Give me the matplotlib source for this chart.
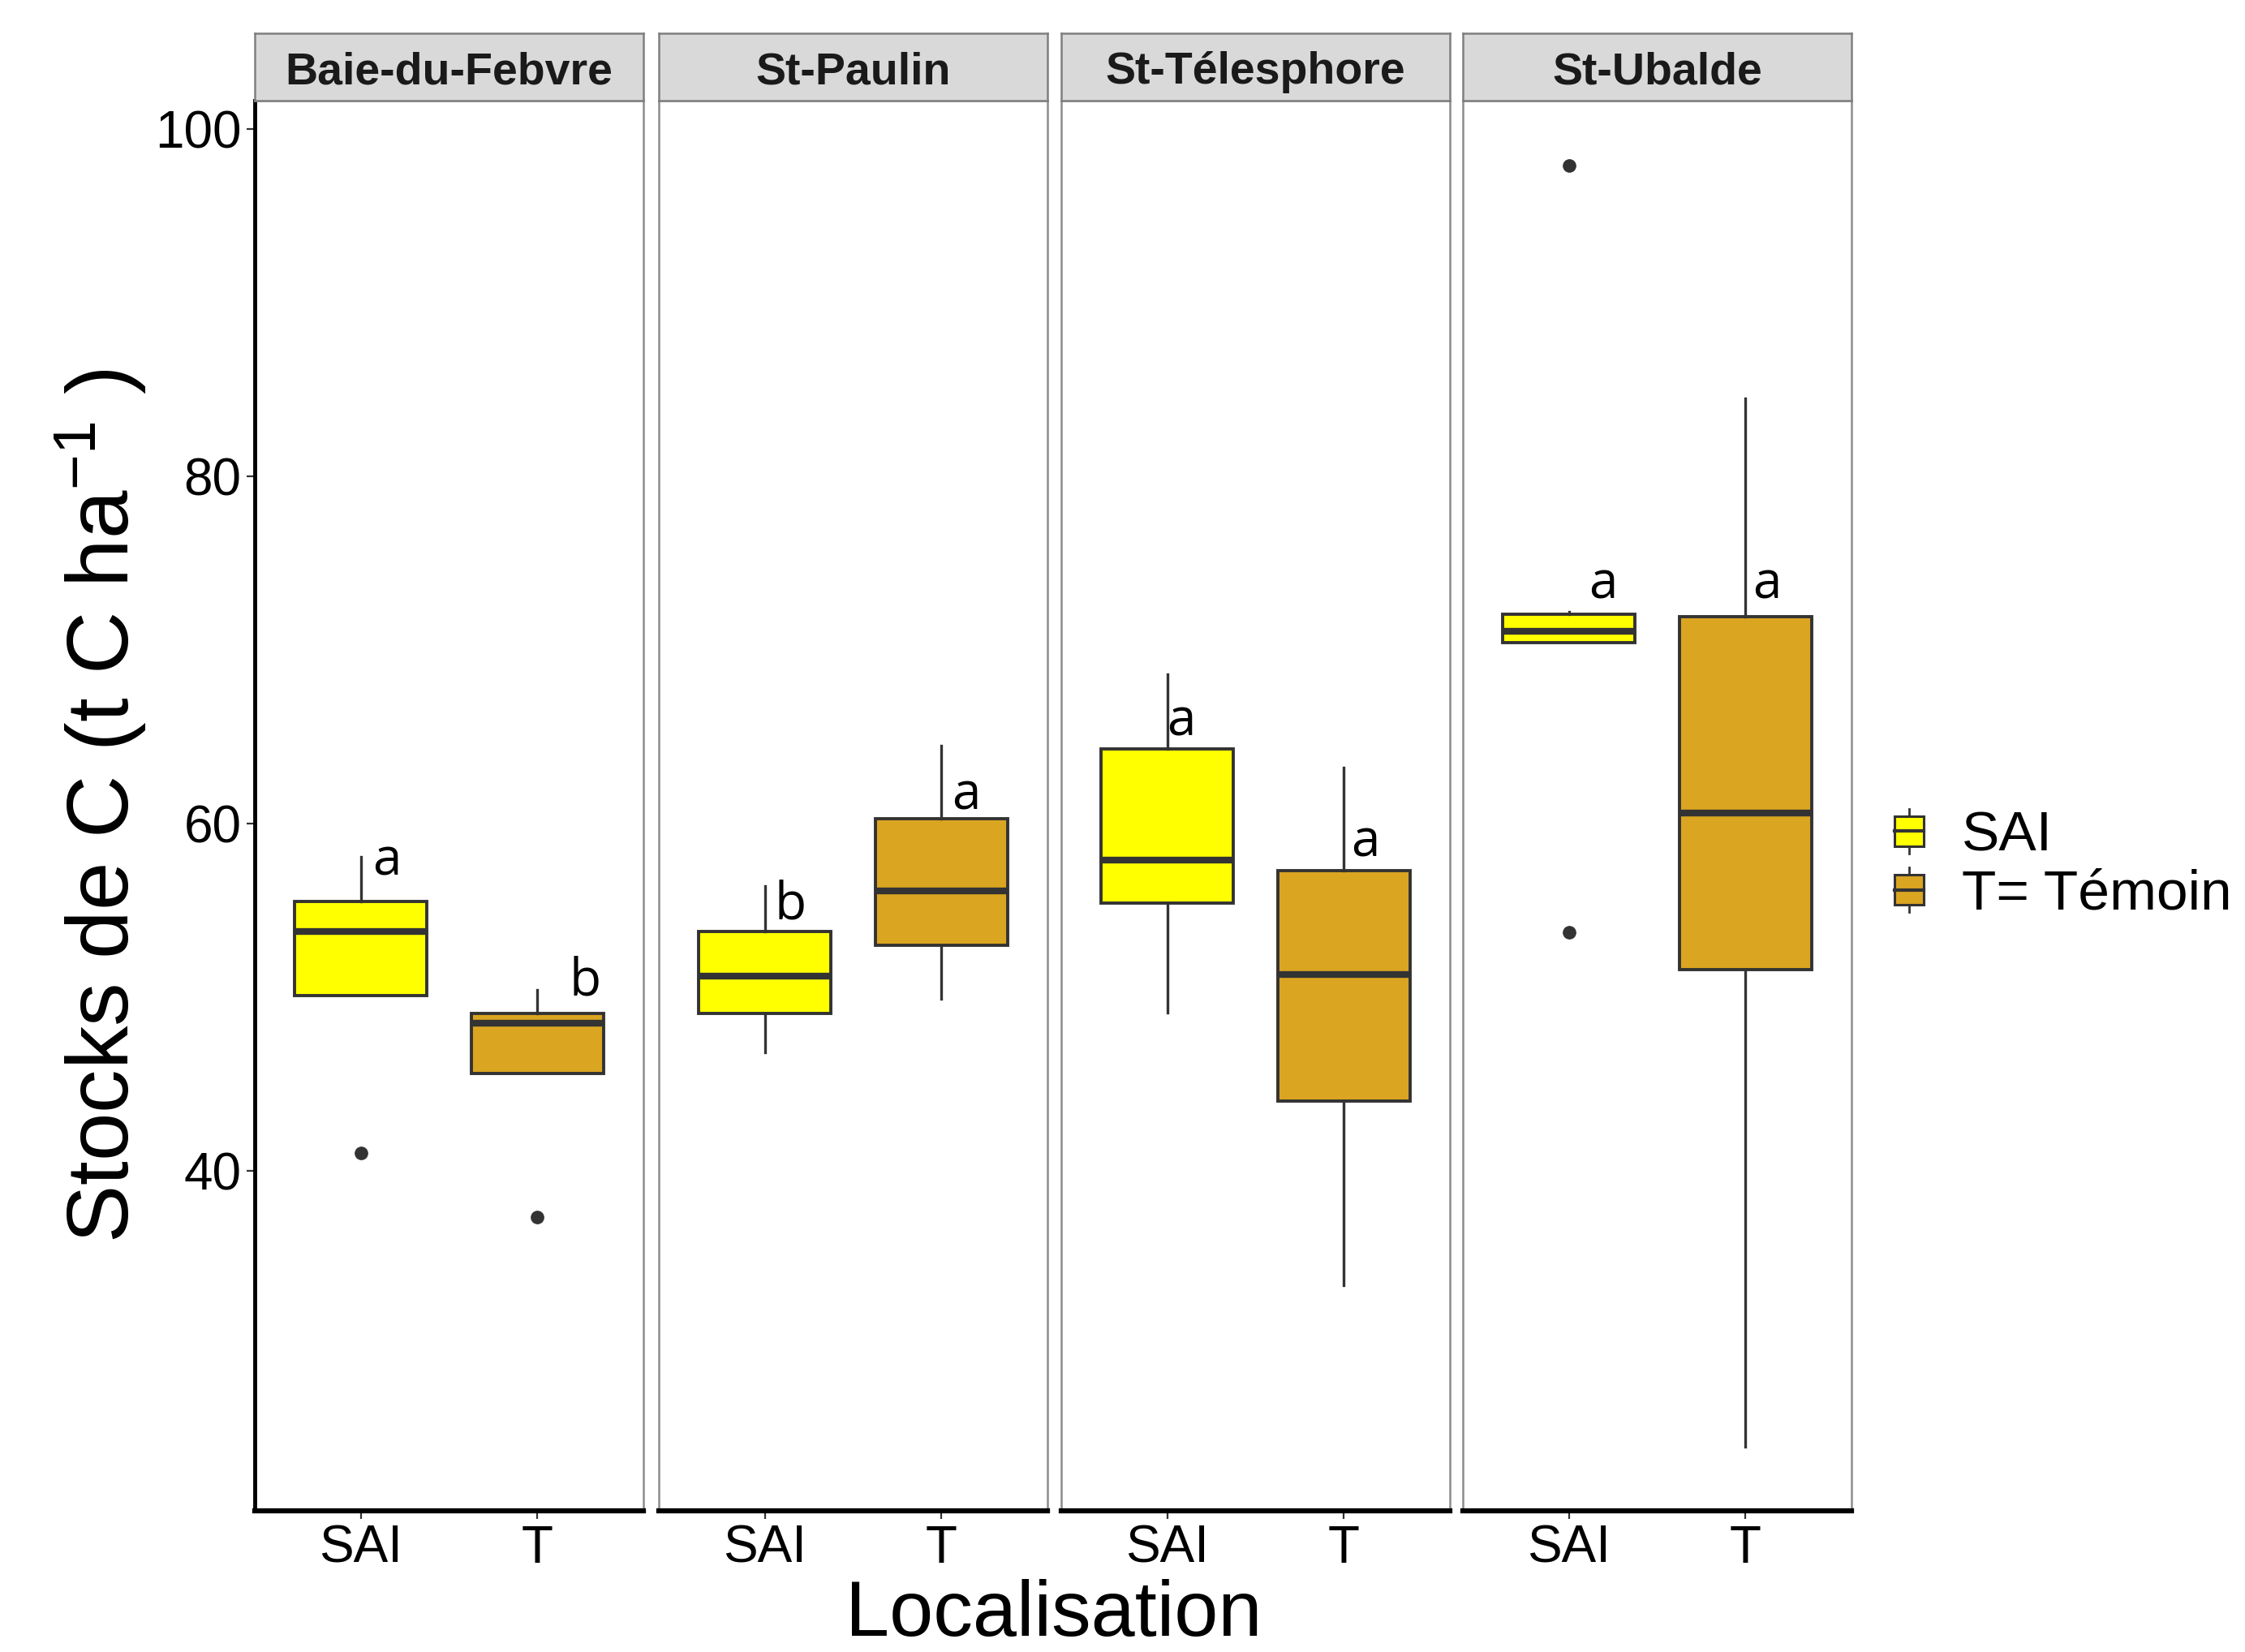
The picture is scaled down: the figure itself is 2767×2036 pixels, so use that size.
import matplotlib
matplotlib.use("Agg")
import matplotlib.pyplot as plt
from matplotlib.patches import Rectangle, Patch
from matplotlib.lines import Line2D
from matplotlib.legend_handler import HandlerBase

# ---------------- data ----------------
sites = ["Baie-du-Febvre", "St-Paulin", "St-Télesphore", "St-Ubalde"]
groups = ["SAI", "T"]
legend_labels = ["SAI", "T= Témoin"]

sai_whislo = [50.1, 46.8, 49.1, 70.4]
sai_q1 = [50.1, 49.05, 55.4, 70.4]
sai_med = [53.8, 51.2, 57.9, 71.06]
sai_q3 = [55.5, 53.8, 64.3, 72.05]
sai_whishi = [58.1, 56.4, 68.6, 72.2]
sai_fliers = [[41.0], [], [], [97.9, 53.75]]

t_whislo = [45.6, 49.9, 33.4, 24.1]
t_q1 = [45.6, 53.0, 44.0, 51.6]
t_med = [48.5, 56.1, 51.3, 60.6]
t_q3 = [49.05, 60.3, 57.3, 71.9]
t_whishi = [50.4, 64.5, 63.2, 84.5]
t_fliers = [[37.3], [], [], []]

sai_letters = ["a", "b", "a", "a"]
t_letters = ["b", "a", "a", "a"]

y_ticks = [40, 60, 80, 100]
y_label = r"Stocks de C (t C ha$^{-1}$ )"
x_label = "Localisation"

# annotation placement (offset from box centre, baseline value)
sai_letter_dx = [0.146, 0.146, 0.08, 0.195]
sai_letter_y = [57.05, 54.5, 65.05, 72.95]
t_letter_dx = [0.27, 0.138, 0.12, 0.12]
t_letter_y = [50.1, 60.8, 58.1, 72.95]

# ---------------- styling ----------------
SANS = ["Liberation Sans", "DejaVu Sans"]
LETTER_FONT = ["Open Sans", "DejaVu Sans"]
plt.rcParams["font.family"] = SANS
plt.rcParams["mathtext.fontset"] = "custom"
plt.rcParams["mathtext.rm"] = "Liberation Sans"
plt.rcParams["mathtext.it"] = "Liberation Sans"

FILL = {"SAI": "#FFFF00", "T": "#DAA520"}
EDGE = "#333333"

W, H = 2767, 2036
fig = plt.figure(figsize=(W / 100, H / 100), dpi=100)

lefts = [314 / W, 812 / W, 1308 / W, 1803 / W]
pw = 479 / W
pb = 1 - 1862 / H
pt = 1 - 124 / H
ph = pt - pb
sh = 83 / H

ylim = (20.4, 101.65)

for i, site in enumerate(sites):
    ax = fig.add_axes([lefts[i], pb, pw, ph])
    stats = [
        dict(label="SAI", whislo=sai_whislo[i], q1=sai_q1[i], med=sai_med[i],
             q3=sai_q3[i], whishi=sai_whishi[i], fliers=sai_fliers[i]),
        dict(label="T", whislo=t_whislo[i], q1=t_q1[i], med=t_med[i],
             q3=t_q3[i], whishi=t_whishi[i], fliers=t_fliers[i]),
    ]
    bp = ax.bxp(stats, positions=[1, 2], widths=0.75, patch_artist=True,
                showcaps=False,
                boxprops=dict(edgecolor=EDGE, linewidth=2.8),
                medianprops=dict(color=EDGE, linewidth=6, solid_capstyle="butt"),
                whiskerprops=dict(color=EDGE, linewidth=2.4),
                flierprops=dict(marker="o", markerfacecolor=EDGE,
                                markeredgecolor=EDGE, markersize=11))
    for patch, g in zip(bp["boxes"], groups):
        patch.set_facecolor(FILL[g])
    ax.set_xlim(0.4, 2.6)
    ax.set_ylim(*ylim)
    ax.set_xticks([1, 2])
    ax.set_xticklabels(groups, fontsize=46)
    ax.tick_params(axis="x", length=7, width=1.6, color="#333333", pad=5)
    if i == 0:
        ax.set_yticks(y_ticks)
        ax.set_yticklabels([str(v) for v in y_ticks], fontsize=46)
        ax.tick_params(axis="y", length=7, width=1.6, color="#333333", pad=5)
    else:
        ax.set_yticks([])
    for s in ["top", "right", "left"]:
        ax.spines[s].set_color("#8c8c8c")
        ax.spines[s].set_linewidth(1.8)
    ax.spines["bottom"].set_color("black")
    ax.spines["bottom"].set_linewidth(4.5)
    if i == 0:
        ax.spines["left"].set_color("black")
        ax.spines["left"].set_linewidth(3.5)
    # letters
    ax.text(1 + sai_letter_dx[i], sai_letter_y[i], sai_letters[i], ha="center",
            va="baseline", fontsize=46, family=LETTER_FONT, color="black")
    ax.text(2 + t_letter_dx[i], t_letter_y[i], t_letters[i], ha="center",
            va="baseline", fontsize=46, family=LETTER_FONT, color="black")

    # strip
    sax = fig.add_axes([lefts[i], pt, pw, sh])
    sax.set_facecolor("#D9D9D9")
    sax.set_xticks([])
    sax.set_yticks([])
    for s in sax.spines.values():
        s.set_color("#7f7f7f")
        s.set_linewidth(1.8)
    sax.text(0.5, 0.42, site, ha="center", va="center", fontsize=40,
             fontweight="bold", color="#1a1a1a", transform=sax.transAxes)

fig.text(124 / W, (pb + pt) / 2, y_label, rotation=90, ha="center", va="center",
         fontsize=77)
fig.text(1299 / W, 0.0, x_label, ha="center", va="bottom", fontsize=70)


class BoxHandler(HandlerBase):
    def create_artists(self, legend, orig_handle, xdescent, ydescent, width,
                       height, fontsize, trans):
        x0, y0 = -xdescent, -ydescent
        cx, cy = x0 + width / 2, y0 + height / 2
        bw, bh = 26, height * 0.67
        rect = Rectangle((cx - bw / 2, cy - bh / 2), bw, bh,
                         facecolor=orig_handle.get_facecolor(), edgecolor=EDGE,
                         linewidth=2.2, transform=trans)
        med = Line2D([cx - bw / 2, cx + bw / 2], [cy, cy], color=EDGE, lw=3,
                     transform=trans)
        w1 = Line2D([cx, cx], [y0, cy - bh / 2], color=EDGE, lw=2, transform=trans)
        w2 = Line2D([cx, cx], [cy + bh / 2, y0 + height], color=EDGE, lw=2,
                    transform=trans)
        return [w1, w2, rect, med]


handles = [Patch(facecolor=FILL[g]) for g in groups]
fig.legend(handles, legend_labels, handler_map={Patch: BoxHandler()},
           loc="center left", bbox_to_anchor=(2326 / W, 0.4765), frameon=False,
           handlelength=0.77, handleheight=0.84, handletextpad=0.55,
           labelspacing=0.1, borderpad=0, borderaxespad=0,
           prop=dict(size=50))

fig.savefig("out.png", dpi=100)
